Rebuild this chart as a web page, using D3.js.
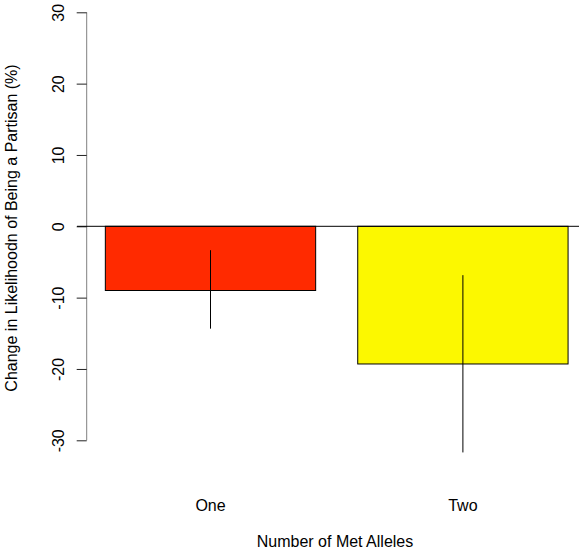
<!DOCTYPE html>
<html>
<head>
<meta charset="utf-8">
<script src="https://cdn.jsdelivr.net/npm/d3@7"></script>
<style>
  body { margin: 0; background: #fff; }
  svg { display: block; font-family: "Liberation Sans", Arial, sans-serif; }
</style>
</head>
<body>
<svg id="chart" width="579" height="552"></svg>
<script>
const categories = ["One", "Two"];
const values = [-9.0, -19.3];
const errLow = [-14.35, -31.7];
const errHigh = [-3.35, -6.85];
const barColors = ["#FF2A00", "#FCF800"];
const yTicks = [-30, -20, -10, 0, 10, 20, 30];

const svg = d3.select("#chart");

const y = d3.scaleLinear().domain([-30, 30]).range([440.3, 12.3]);
const x = d3.scaleBand()
  .domain(categories)
  .range([84.3, 589.1])
  .paddingInner(0.2 / 1.2)
  .paddingOuter(0.1 / 1.2);

// y axis
const yAxis = svg.append("g")
  .attr("transform", "translate(86.7,0)")
  .call(d3.axisLeft(y).tickValues(yTicks).tickSize(10).tickSizeOuter(0).tickFormat(d => String(d)));
yAxis.select(".domain").attr("stroke", "#808080").attr("d", `M0,${y(30)}V${y(-30)}`);
yAxis.selectAll(".tick line").attr("stroke", "#222");
yAxis.selectAll(".tick text")
  .attr("font-size", 16)
  .attr("fill", "#000")
  .attr("font-family", "Liberation Sans, Arial, sans-serif")
  .attr("x", 0)
  .attr("y", 0)
  .attr("dy", null)
  .attr("text-anchor", "middle")
  .attr("transform", "translate(-22.7,0) rotate(-90)");

// bars
svg.append("g").selectAll("rect")
  .data(categories)
  .join("rect")
  .attr("x", d => x(d))
  .attr("width", x.bandwidth())
  .attr("y", (d, i) => y(Math.max(0, values[i])))
  .attr("height", (d, i) => Math.abs(y(values[i]) - y(0)))
  .attr("fill", (d, i) => barColors[i])
  .attr("stroke", "#000")
  .attr("stroke-width", 1);

// zero line
svg.append("line")
  .attr("x1", 77).attr("x2", 579)
  .attr("y1", y(0)).attr("y2", y(0))
  .attr("stroke", "#000").attr("stroke-width", 1);

// error bars
svg.append("g").selectAll("line")
  .data(categories)
  .join("line")
  .attr("x1", d => x(d) + x.bandwidth() / 2)
  .attr("x2", d => x(d) + x.bandwidth() / 2)
  .attr("y1", (d, i) => y(errHigh[i]))
  .attr("y2", (d, i) => y(errLow[i]))
  .attr("stroke", "#000").attr("stroke-width", 1);

// category labels
svg.append("g").selectAll("text")
  .data(categories)
  .join("text")
  .attr("x", d => x(d) + x.bandwidth() / 2)
  .attr("y", 511)
  .attr("text-anchor", "middle")
  .attr("font-size", 16)
  .text(d => d);

// axis titles
svg.append("text")
  .attr("x", 335).attr("y", 547)
  .attr("text-anchor", "middle")
  .attr("font-size", 16)
  .text("Number of Met Alleles");

svg.append("text")
  .attr("transform", "translate(17,228) rotate(-90)")
  .attr("text-anchor", "middle")
  .attr("font-size", 16)
  .text("Change in Likelihoodn of Being a Partisan (%)");
</script>
</body>
</html>
